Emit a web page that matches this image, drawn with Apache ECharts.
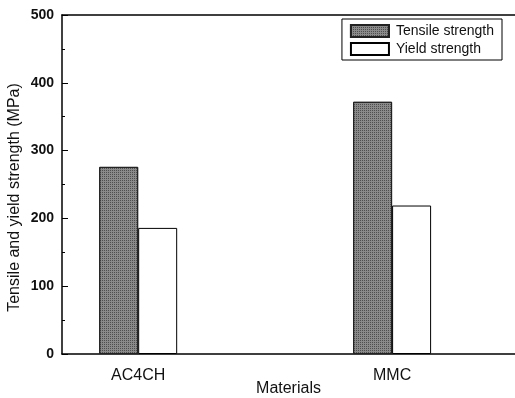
<!DOCTYPE html>
<html>
<head>
<meta charset="utf-8">
<script src="https://cdn.jsdelivr.net/npm/echarts@6/dist/echarts.min.js"></script>
<style>
  html, body { margin: 0; padding: 0; background: #fff; }
  #chart { width: 515px; height: 398px; }
</style>
</head>
<body>
<div id="chart"></div>
<script>
// data
const categories = ['AC4CH', 'MMC'];
const positions = [1, 2];
const tensile = [276, 372];
const yieldStr = [186, 219];
const yTicks = [0, 100, 200, 300, 400, 500];

const font = 'Liberation Sans, Arial, sans-serif';
const chart = echarts.init(document.getElementById('chart'));

const pair = (vals) => positions.map((p, i) => [p, vals[i]]);
const xMin = 0.7, xMax = 2.484;

chart.setOption({
  animation: false,
  backgroundColor: '#fff',
  grid: {
    left: 62, right: 0, top: 15, bottom: 44,
    outerBoundsMode: 'none',
    containLabel: false
  },
  legend: {
    orient: 'vertical',
    right: 13, top: 19,
    padding: [5, 8, 4, 8],
    itemGap: 4,
    itemWidth: 38, itemHeight: 12,
    borderColor: '#000', borderWidth: 1,
    icon: 'rect',
    textStyle: { fontFamily: font, fontSize: 14, color: '#111', padding: [0, 0, 0, 2] },
    data: ['Tensile strength', 'Yield strength']
  },
  xAxis: [
    {
      type: 'value',
      min: xMin, max: xMax,
      splitLine: { show: false },
      axisLine: { show: true, lineStyle: { color: '#000', width: 1.5 } },
      axisTick: { show: false },
      axisLabel: {
        customValues: positions,
        formatter: (v) => categories[positions.indexOf(v)] || '',
        fontFamily: font, fontSize: 16, color: '#111', margin: 14
      },
      name: 'Materials',
      nameLocation: 'middle',
      nameGap: 27,
      nameMoveOverlap: false,
      nameTextStyle: { fontFamily: font, fontSize: 16, color: '#111' }
    },
    {
      // top frame line
      type: 'value',
      position: 'top',
      min: xMin, max: xMax,
      splitLine: { show: false },
      axisLine: { show: true, lineStyle: { color: '#000', width: 1.5 } },
      axisTick: { show: false },
      axisLabel: { show: false }
    }
  ],
  yAxis: {
    type: 'value',
    min: 0, max: 500, interval: 100,
    splitLine: { show: false },
    axisLine: { show: true, lineStyle: { color: '#000', width: 1.5 } },
    axisTick: { show: true, inside: true, length: 6, lineStyle: { color: '#000' } },
    minorTick: { show: true, splitNumber: 2, length: 3, lineStyle: { color: '#000' } },
    axisLabel: {
      customValues: yTicks,
      fontFamily: font, fontSize: 14, fontWeight: 'bold', color: '#111', margin: 8
    },
    name: 'Tensile and yield strength (MPa)',
    nameLocation: 'middle',
    nameGap: 39,
    nameMoveOverlap: false,
    nameTextStyle: { fontFamily: font, fontSize: 16, color: '#111', padding: [0, 0, 0, -26] }
  },
  series: [
    {
      name: 'Tensile strength',
      type: 'bar',
      barWidth: 39,
      barGap: '0%',
      data: pair(tensile),
      itemStyle: {
        color: '#8a8a8a',
        borderColor: '#222',
        borderWidth: 1,
        decal: {
          symbol: 'rect', symbolSize: 1,
          dashArrayX: [1, 1], dashArrayY: [1, 1],
          color: 'rgba(30,30,30,0.55)'
        }
      }
    },
    {
      name: 'Yield strength',
      type: 'bar',
      barWidth: 39,
      barGap: '0%',
      data: pair(yieldStr),
      itemStyle: { color: '#fff', borderColor: '#000', borderWidth: 1 }
    }
  ]
});
</script>
</body>
</html>
